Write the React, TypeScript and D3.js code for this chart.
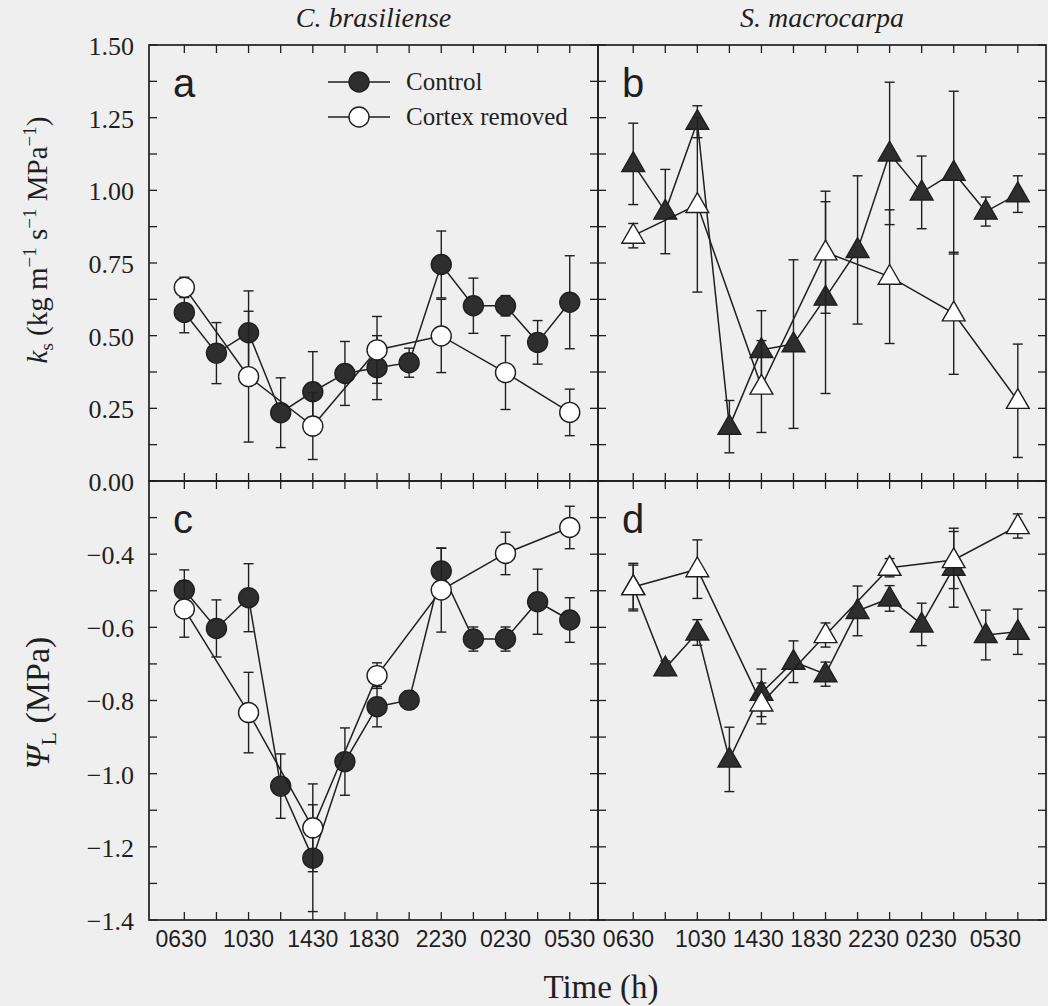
import React from 'react';
import * as d3 from 'd3';

// ---------- data ----------
const timeIdx = [0, 1, 2, 3, 4, 5, 6, 7, 8, 9, 10, 11, 12];
const cortexIdx = [0, 2, 4, 6, 8, 10, 12];
const timeLabels = ['0630', '1030', '1430', '1830', '2230', '0230', '0530'];
const labelPosLeft = [-0.1, 2, 4, 5.9, 8, 10, 12];
const labelPosRight = [-0.15, 2.1, 3.9, 5.7, 7.5, 9.3, 11.3];

const ksMajor = [0, 0.25, 0.5, 0.75, 1.0, 1.25, 1.5];
const ksMinor = [0.125, 0.375, 0.625, 0.875, 1.125, 1.375];
const psiMajor = [-1.4, -1.2, -1.0, -0.8, -0.6, -0.4, -0.2];
const psiMinor = [-1.3, -1.1, -0.9, -0.7, -0.5, -0.3];
const psiLabeled = [-1.4, -1.2, -1.0, -0.8, -0.6, -0.4];

// panel a: C. brasiliense, k_s
const aControl = [0.58, 0.44, 0.51, 0.235, 0.307, 0.37, 0.39, 0.407, 0.745, 0.603, 0.603, 0.477, 0.615];
const aControlErr = [0.07, 0.105, 0.144, 0.12, 0.138, 0.11, 0.11, 0.05, 0.115, 0.095, 0.035, 0.075, 0.16];
const aCortex = [0.666, 0.359, 0.189, 0.451, 0.499, 0.373, 0.236];
const aCortexErr = [0.035, 0.225, 0.115, 0.115, 0.126, 0.127, 0.08];

// panel b: S. macrocarpa, k_s
const bControl = [1.091, 0.927, 1.236, 0.187, 0.451, 0.471, 0.631, 0.795, 1.127, 0.993, 1.061, 0.927, 0.987];
const bControlErr = [0.14, 0.145, 0.055, 0.09, 0.135, 0.29, 0.33, 0.255, 0.245, 0.125, 0.28, 0.05, 0.063];
const bCortex = [0.844, 0.95, 0.325, 0.787, 0.703, 0.577, 0.276];
const bCortexErr = [0.042, 0.3, 0.158, 0.21, 0.23, 0.21, 0.195];

// panel c: C. brasiliense, leaf water potential
const cControl = [-0.498, -0.603, -0.519, -1.034, -1.231, -0.967, -0.817, -0.799, -0.446, -0.632, -0.632, -0.53, -0.58];
const cControlErr = [0.055, 0.078, 0.093, 0.088, 0.146, 0.092, 0.055, 0.025, 0.062, 0.033, 0.033, 0.089, 0.061];
const cCortex = [-0.55, -0.833, -1.148, -0.732, -0.498, -0.398, -0.327];
const cCortexErr = [0.077, 0.11, 0.12, 0.035, 0.115, 0.058, 0.058];

// panel d: S. macrocarpa, leaf water potential
const dControl = [-0.49, -0.712, -0.614, -0.961, -0.779, -0.694, -0.728, -0.555, -0.521, -0.592, -0.437, -0.621, -0.612];
const dControlErr = [0.06, 0.02, 0.035, 0.088, 0.065, 0.057, 0.033, 0.068, 0.035, 0.058, 0.108, 0.068, 0.062];
const dCortex = [-0.49, -0.441, -0.808, -0.621, -0.437, -0.416, -0.323];
const dCortexErr = [0.065, 0.08, 0.056, 0.033, 0.025, 0.078, 0.033];

// ---------- style ----------
const BG = '#efefef';
const INK = '#1f1f1f';
const FILL = '#2e2e2e';
const SERIF = '"Liberation Serif", "Times New Roman", serif';
const SANS = '"Liberation Sans", Arial, sans-serif';

const X_DOMAIN: [number, number] = [-1.1, 12.88];
const LEFT: [number, number] = [149, 598];
const RIGHT: [number, number] = [598, 1046];
const TOP: [number, number] = [45, 481];
const BOTTOM: [number, number] = [481, 920];

function Markers({ xs, ys, x, y, marker, filled }: any) {
  const tri = d3.symbol(d3.symbolTriangle, 225)() as string;
  return (
    <g>
      {xs.map((xi: number, i: number) =>
        marker === 'circle' ? (
          <circle key={i} cx={x(xi)} cy={y(ys[i])} r={10} fill={filled ? FILL : '#ffffff'} stroke={INK} strokeWidth={1.4} />
        ) : (
          <path key={i} d={tri} transform={`translate(${x(xi)},${y(ys[i]) + 1})`} fill={filled ? FILL : '#ffffff'} stroke={INK} strokeWidth={1.4} />
        )
      )}
    </g>
  );
}

function Series({ xs, ys, errs, x, y, marker, filled }: any) {
  const line = d3.line<number>().x((d, i) => x(xs[i])).y((d) => y(d));
  return (
    <g>
      {xs.map((xi: number, i: number) => {
        const cx = x(xi);
        const y1 = y(ys[i] + errs[i]);
        const y2 = y(ys[i] - errs[i]);
        return (
          <g key={i} stroke={INK} strokeWidth={1.4}>
            <line x1={cx} x2={cx} y1={y1} y2={y2} />
            <line x1={cx - 5} x2={cx + 5} y1={y1} y2={y1} />
            <line x1={cx - 5} x2={cx + 5} y1={y2} y2={y2} />
          </g>
        );
      })}
      <path d={line(ys) as string} fill="none" stroke={INK} strokeWidth={1.5} />
      <Markers xs={xs} ys={ys} x={x} y={y} marker={marker} filled={filled} />
    </g>
  );
}

function Panel(props: any) {
  const { xr, yr, yDomain, yMajor, yMinor, control, controlErr, cortex, cortexErr, marker, letter, yLabels, yFormat, xLabelPos, legend } = props;
  const x = d3.scaleLinear().domain(X_DOMAIN).range(xr);
  const y = d3.scaleLinear().domain(yDomain).range([yr[1], yr[0]]);
  const T = 8;
  const allY = [...yMajor, ...yMinor];
  return (
    <g>
      <rect x={xr[0]} y={yr[0]} width={xr[1] - xr[0]} height={yr[1] - yr[0]} fill="none" stroke={INK} strokeWidth={1.7} />
      <g stroke={INK} strokeWidth={1.3}>
        {timeIdx.map((t) => (
          <g key={'xt' + t}>
            <line x1={x(t)} x2={x(t)} y1={yr[0]} y2={yr[0] + T} />
            <line x1={x(t)} x2={x(t)} y1={yr[1]} y2={yr[1] - T} />
          </g>
        ))}
        {allY.map((v: number, i: number) => (
          <g key={'yt' + i}>
            <line x1={xr[0]} x2={xr[0] + T} y1={y(v)} y2={y(v)} />
            <line x1={xr[1]} x2={xr[1] - T} y1={y(v)} y2={y(v)} />
          </g>
        ))}
      </g>
      {yLabels &&
        yLabels.map((v: number, i: number) => (
          <text key={'yl' + i} x={134} y={y(v)} dy="0.38em" textAnchor="end" fontFamily={SERIF} fontSize={26} fill={INK}>
            {yFormat(v)}
          </text>
        ))}
      {xLabelPos &&
        xLabelPos.map((p: number, i: number) => (
          <text key={'xl' + i} x={x(p)} y={947} textAnchor="middle" fontFamily={SANS} fontSize={23} fill={INK}>
            {timeLabels[i]}
          </text>
        ))}
      <text x={xr[0] + 24} y={yr[0] + 52} fontFamily={SANS} fontSize={40} fill={INK}>
        {letter}
      </text>
      <Series xs={timeIdx} ys={control} errs={controlErr} x={x} y={y} marker={marker} filled={true} />
      <Series xs={cortexIdx} ys={cortex} errs={cortexErr} x={x} y={y} marker={marker} filled={false} />
      {legend && (
        <g>
          {[
            { label: 'Control', filled: true },
            { label: 'Cortex removed', filled: false },
          ].map((e, i) => {
            const ly = 82 + i * 35;
            return (
              <g key={e.label}>
                <line x1={328} x2={390} y1={ly} y2={ly} stroke={INK} strokeWidth={1.5} />
                <circle cx={359} cy={ly} r={10} fill={e.filled ? FILL : '#ffffff'} stroke={INK} strokeWidth={1.4} />
                <text x={406} y={ly + 8} fontFamily={SERIF} fontSize={25} fill={INK}>
                  {e.label}
                </text>
              </g>
            );
          })}
        </g>
      )}
    </g>
  );
}

export default function App() {
  const fmtTop = d3.format('.2f');
  const fmtBottom = d3.format('.1f');
  return (
    <svg width={1048} height={1006} style={{ position: 'absolute', left: 0, top: 0, display: 'block' }}>
      <rect x={0} y={0} width={1048} height={1006} fill={BG} />
      <text x={(LEFT[0] + LEFT[1]) / 2} y={27} textAnchor="middle" fontFamily={SERIF} fontStyle="italic" fontSize={28} fill={INK}>
        C. brasiliense
      </text>
      <text x={(RIGHT[0] + RIGHT[1]) / 2} y={27} textAnchor="middle" fontFamily={SERIF} fontStyle="italic" fontSize={28} fill={INK}>
        S. macrocarpa
      </text>
      <Panel xr={LEFT} yr={TOP} yDomain={[0, 1.5]} yMajor={ksMajor} yMinor={ksMinor} control={aControl} controlErr={aControlErr} cortex={aCortex} cortexErr={aCortexErr} marker="circle" letter="a" yLabels={ksMajor} yFormat={fmtTop} legend={true} />
      <Panel xr={RIGHT} yr={TOP} yDomain={[0, 1.5]} yMajor={ksMajor} yMinor={ksMinor} control={bControl} controlErr={bControlErr} cortex={bCortex} cortexErr={bCortexErr} marker="triangle" letter="b" />
      <Panel xr={LEFT} yr={BOTTOM} yDomain={[-1.4, -0.2]} yMajor={psiMajor} yMinor={psiMinor} control={cControl} controlErr={cControlErr} cortex={cCortex} cortexErr={cCortexErr} marker="circle" letter="c" yLabels={psiLabeled} yFormat={fmtBottom} xLabelPos={labelPosLeft} />
      <Panel xr={RIGHT} yr={BOTTOM} yDomain={[-1.4, -0.2]} yMajor={psiMajor} yMinor={psiMinor} control={dControl} controlErr={dControlErr} cortex={dCortex} cortexErr={dCortexErr} marker="triangle" letter="d" xLabelPos={labelPosRight} />
      <text transform="translate(47,240) rotate(-90)" textAnchor="middle" fontFamily={SERIF} fontSize={29} fill={INK}>
        <tspan fontStyle="italic">k</tspan>
        <tspan fontSize={19} dy={6}>s</tspan>
        <tspan dy={-6}> (kg m</tspan>
        <tspan fontSize={19} dy={-11}>−1</tspan>
        <tspan dy={11}> s</tspan>
        <tspan fontSize={19} dy={-11}>−1</tspan>
        <tspan dy={11}> MPa</tspan>
        <tspan fontSize={19} dy={-11}>−1</tspan>
        <tspan dy={11}>)</tspan>
      </text>
      <text transform="translate(49,703) rotate(-90)" textAnchor="middle" fontFamily={SERIF} fontSize={34} fill={INK}>
        <tspan fontStyle="italic">Ψ</tspan>
        <tspan fontSize={22} dy={7}>L</tspan>
        <tspan dy={-7}> (MPa)</tspan>
      </text>
      <text x={601} y={998} textAnchor="middle" fontFamily={SERIF} fontSize={33} fill={INK}>
        Time (h)
      </text>
    </svg>
  );
}
